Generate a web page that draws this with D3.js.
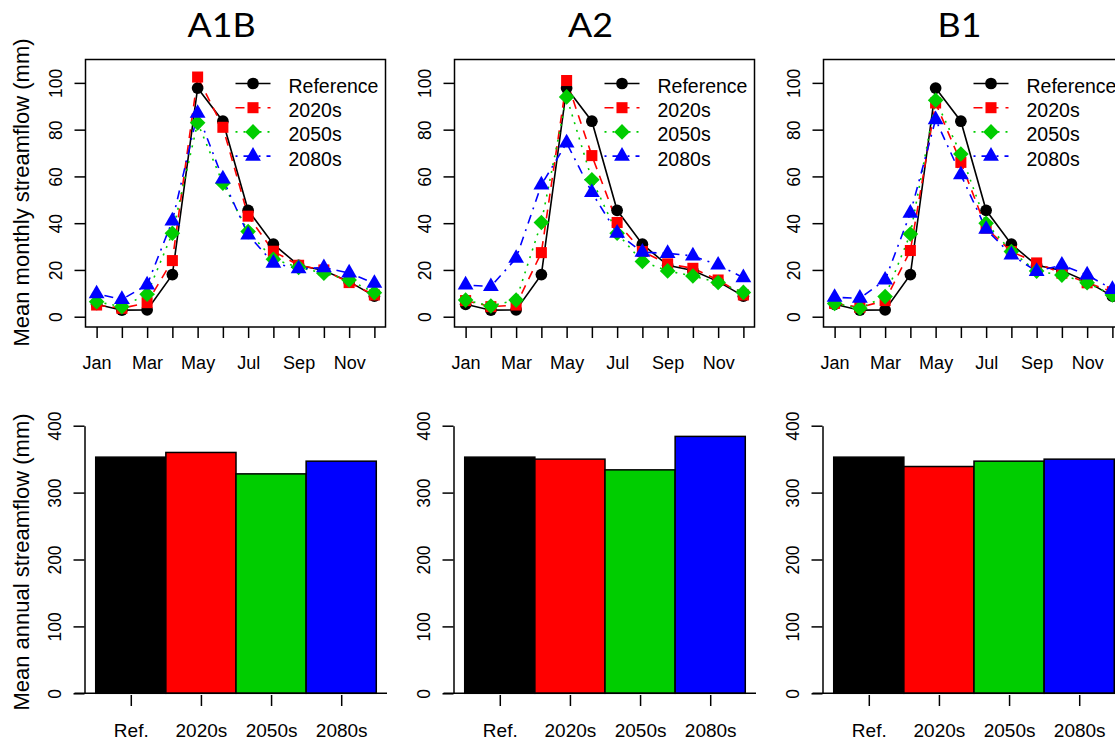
<!DOCTYPE html>
<html>
<head>
<meta charset="utf-8">
<script src="https://cdnjs.cloudflare.com/ajax/libs/d3/7.8.5/d3.min.js"></script>
<style>
    body { margin: 0; background: #fff; }
    svg { display: block; font-family: "Liberation Sans", Arial, Helvetica, sans-serif; }
    .title { font-family: Lato, "Open Sans", sans-serif; }
</style>
</head>
<body>
<svg id="chart" width="1115" height="740"></svg>
<script>
// ---- data ----
const scenarios = ["A1B", "A2", "B1"];
const seriesNames = ["Reference", "2020s", "2050s", "2080s"];
const months = ["Jan", "Feb", "Mar", "Apr", "May", "Jun", "Jul", "Aug", "Sep", "Oct", "Nov", "Dec"];
const shownMonths = ["Jan", "Mar", "May", "Jul", "Sep", "Nov"];

const refMonthly = [5.3, 2.8, 2.9, 18, 97.8, 83.6, 45.5, 31, 22, 19.8, 15, 8.8];

const a1b2020s = [5, 3.6, 6, 24, 102.5, 81, 43, 28, 22, 20, 14.6, 9.3];
const a1b2050s = [6.4, 4.3, 9.6, 35.7, 82.9, 57.1, 36.4, 24.6, 21.1, 18.6, 15.7, 10.3];
const a1b2080s = [9.8, 7.4, 13.6, 41, 87, 58.9, 35, 22.9, 20.5, 21, 18.7, 14.3];

const a22020s = [6.9, 4.3, 5, 27.4, 101, 68.9, 40.3, 27.9, 22.6, 20.7, 15.7, 9.3];
const a22050s = [7.1, 4.6, 7.1, 40.3, 94, 58.6, 35.7, 23.6, 19.6, 17.4, 14.6, 10.4];
const a22080s = [13.6, 12.9, 25, 56.4, 74.3, 53.1, 35.7, 27.6, 27.1, 26, 22.1, 16.7];

const b12020s = [5.7, 4, 6.9, 28.3, 91.4, 66, 37.9, 27.9, 23, 18.6, 14.5, 10.7];
const b12050s = [5.7, 3.6, 8.6, 35.4, 92.6, 69.6, 40, 27.9, 19.5, 17.8, 14.5, 9.3];
const b12080s = [8.3, 7.9, 15.7, 44.3, 84.3, 60.7, 37.4, 26.4, 19.4, 22.1, 17.9, 11.7];

const barLabels = ["Ref.", "2020s", "2050s", "2080s"];
const annualA1B = [353, 360, 328, 347];
const annualA2 = [353, 350, 334, 384];
const annualB1 = [353, 339, 347, 350];

const monthlyTicks = [0, 20, 40, 60, 80, 100];
const annualTicks = [0, 100, 200, 300, 400];

// ---- styles ----
const colors = ["#000000", "#ff0000", "#00cd00", "#0000ff"];
const dashes = [null, "9,7", "2,6", "2,6,9,6"];
const markers = [
    d3.symbol(d3.symbolCircle, 108)(),
    d3.symbol(d3.symbolSquare, 122)(),
    "M0,-7.8L7.8,0L0,7.8L-7.8,0Z",
    d3.symbol(d3.symbolTriangle, 108)()
];

class MonthlyChart {

    constructor(_config, _data) {
        this.config = {
            parent: _config.parent,
            left: _config.left,
            top: 59.5,
            width: 300,
            height: 267.5,
            showYLabel: _config.showYLabel
        }
        this.data = _data;
        this.initVis();
    }

    initVis() {
        let vis = this;

        vis.xScale = d3.scaleLinear()
            .domain([0.56, 12.44])
            .range([0, vis.config.width]);

        vis.yScale = d3.scaleLinear()
            .domain([-4.4, 110])
            .range([vis.config.height, 0]);

        vis.chart = vis.config.parent.append('g')
            .attr('transform', `translate(${vis.config.left},${vis.config.top})`);

        vis.xAxis = d3.axisBottom(vis.xScale)
            .tickValues(d3.range(1, 13))
            .tickSize(11)
            .tickSizeOuter(0)
            .tickFormat(i => shownMonths.includes(months[i - 1]) ? months[i - 1] : "");

        vis.yAxis = d3.axisLeft(vis.yScale)
            .tickValues(monthlyTicks)
            .tickSize(11)
            .tickSizeOuter(0);

        vis.renderVis();
    }

    renderVis() {
        let vis = this;

        vis.chart.append('g')
            .attr('transform', `translate(0,${vis.config.height})`)
            .call(vis.xAxis)
            .call(g => g.select('.domain').remove())
            .call(g => g.selectAll('line').attr('stroke-width', 1.5))
            .call(g => g.selectAll('text')
                .attr('y', 42).attr('dy', 0)
                .attr('font-size', 18).attr('font-family', null));

        vis.chart.append('g')
            .call(vis.yAxis)
            .call(g => g.select('.domain').remove())
            .call(g => g.selectAll('line').attr('stroke-width', 1.5))
            .call(g => g.selectAll('text')
                .attr('transform', 'rotate(-90)')
                .attr('x', 0).attr('y', -23.5).attr('dy', 0)
                .attr('text-anchor', 'middle')
                .attr('font-size', 17.5).attr('font-family', null));

        let line = d3.line()
            .x((d, i) => vis.xScale(i + 1))
            .y(d => vis.yScale(d));

        vis.data.forEach((values, s) => {
            vis.chart.append('path')
                .attr('d', line(values))
                .attr('fill', 'none')
                .attr('stroke', colors[s])
                .attr('stroke-width', 1.6)
                .attr('stroke-dasharray', dashes[s]);
        });

        vis.data.forEach((values, s) => {
            vis.chart.selectAll(`.pt${s}`)
                .data(values)
                .join('path')
                .attr('class', `pt${s}`)
                .attr('d', markers[s])
                .attr('fill', colors[s])
                .attr('transform', (d, i) => `translate(${vis.xScale(i + 1)},${vis.yScale(d)})`);
        });

        // legend, top right
        let legend = vis.chart.selectAll('.legend')
            .data(seriesNames)
            .join('g')
            .attr('class', 'legend')
            .attr('transform', (d, i) => `translate(150,${24 + i * 24.2})`);

        legend.append('line')
            .attr('x1', 0).attr('x2', 35)
            .attr('stroke', (d, i) => colors[i])
            .attr('stroke-width', 1.6)
            .attr('stroke-dasharray', (d, i) => dashes[i]);

        legend.append('path')
            .attr('d', (d, i) => markers[i])
            .attr('fill', (d, i) => colors[i])
            .attr('transform', 'translate(17.5,0)');

        legend.append('text')
            .attr('x', 53)
            .attr('y', 9.5)
            .attr('font-size', 19.5)
            .text(d => d);

        vis.chart.append('rect')
            .attr('width', vis.config.width)
            .attr('height', vis.config.height)
            .attr('fill', 'none')
            .attr('stroke', '#000')
            .attr('stroke-width', 1.5);

        if (vis.config.showYLabel) {
            vis.chart.append('text')
                .attr('transform', `translate(${29 - vis.config.left},${133}) rotate(-90)`)
                .attr('text-anchor', 'middle')
                .attr('font-size', 22)
                .text('Mean monthly streamflow (mm)');
        }
    }
}

class AnnualChart {

    constructor(_config, _data) {
        this.config = {
            parent: _config.parent,
            left: _config.left,
            width: 303,
            showYLabel: _config.showYLabel
        }
        this.data = _data;
        this.initVis();
    }

    initVis() {
        let vis = this;

        vis.xScale = d3.scaleLinear()
            .domain([-0.16, 4.16])
            .range([0, vis.config.width]);

        vis.yScale = d3.scaleLinear()
            .domain([0, 400])
            .range([693.3, 425.7]);

        vis.chart = vis.config.parent.append('g')
            .attr('transform', `translate(${vis.config.left},0)`);

        vis.xAxis = d3.axisBottom(vis.xScale)
            .tickValues(d3.range(4).map(i => i + 0.5))
            .tickSize(11)
            .tickSizeOuter(0)
            .tickFormat((d, i) => barLabels[i]);

        vis.yAxis = d3.axisLeft(vis.yScale)
            .tickValues(annualTicks)
            .tickSize(11)
            .tickSizeOuter(0);

        vis.renderVis();
    }

    renderVis() {
        let vis = this;

        vis.chart.selectAll('.bar')
            .data(vis.data)
            .join('rect')
            .attr('class', 'bar')
            .attr('x', (d, i) => vis.xScale(i))
            .attr('width', (d, i) => vis.xScale(i + 1) - vis.xScale(i))
            .attr('y', d => vis.yScale(d))
            .attr('height', d => vis.yScale(0) - vis.yScale(d))
            .attr('fill', (d, i) => colors[i])
            .attr('stroke', '#000')
            .attr('stroke-width', 1.5);

        vis.chart.append('line')
            .attr('x1', -10).attr('x2', vis.config.width - 0.5)
            .attr('y1', vis.yScale(0)).attr('y2', vis.yScale(0))
            .attr('stroke', '#000')
            .attr('stroke-width', 1.5);

        vis.chart.append('g')
            .attr('transform', `translate(0,${vis.yScale(0) + 1.7})`)
            .call(vis.xAxis)
            .call(g => g.select('.domain').remove())
            .call(g => g.selectAll('line').attr('stroke-width', 1.5))
            .call(g => g.selectAll('text')
                .attr('y', 42).attr('dy', 0)
                .attr('font-size', 19).attr('font-family', null));

        vis.chart.append('g')
            .call(vis.yAxis)
            .call(g => g.select('.domain').attr('stroke-width', 1.5))
            .call(g => g.selectAll('line').attr('stroke-width', 1.5))
            .call(g => g.selectAll('text')
                .attr('transform', 'rotate(-90)')
                .attr('x', 0).attr('y', -23.5).attr('dy', 0)
                .attr('text-anchor', 'middle')
                .attr('font-size', 17.5).attr('font-family', null));

        if (vis.config.showYLabel) {
            vis.chart.append('text')
                .attr('transform', `translate(${29 - vis.config.left},562) rotate(-90)`)
                .attr('text-anchor', 'middle')
                .attr('font-size', 22)
                .text('Mean annual streamflow (mm)');
        }
    }
}

const svg = d3.select('#chart');

const monthlySets = [
    [refMonthly, a1b2020s, a1b2050s, a1b2080s],
    [refMonthly, a22020s, a22050s, a22080s],
    [refMonthly, b12020s, b12050s, b12080s]
];
const annualSets = [annualA1B, annualA2, annualB1];

scenarios.forEach((name, i) => {
    let left = 85.5 + i * 369;

    svg.append('text')
        .attr('class', 'title')
        .attr('transform', `translate(${left + 136},37.3) scale(1.12,1)`)
        .attr('text-anchor', 'middle')
        .attr('font-size', 32)
        .text(name);

    new MonthlyChart({parent: svg, left: left, showYLabel: i === 0}, monthlySets[i]);
    new AnnualChart({parent: svg, left: left - 1, showYLabel: i === 0}, annualSets[i]);
});
</script>
</body>
</html>
